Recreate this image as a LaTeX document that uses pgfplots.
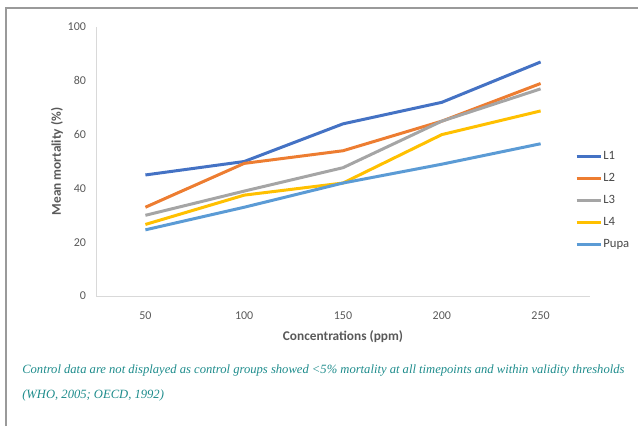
\documentclass[border=0pt]{standalone}
\usepackage{fontspec}
\setmainfont{Carlito}
\newfontfamily\capfont{Liberation Serif}
\usepackage{pgfplots}
\pgfplotsset{compat=1.18}
\definecolor{cLone}{HTML}{4472C4}
\definecolor{cLtwo}{HTML}{ED7D31}
\definecolor{cLthree}{HTML}{A5A5A5}
\definecolor{cLfour}{HTML}{FFC000}
\definecolor{cPupa}{HTML}{5B9BD5}
\definecolor{axgray}{HTML}{D9D9D9}
\definecolor{txtgray}{HTML}{595959}
\definecolor{framegray}{HTML}{9A9A9A}
\definecolor{capcol}{HTML}{1E8C8C}
\begin{document}
\begin{tikzpicture}
\useasboundingbox (0pt,0pt) rectangle (478.5pt,-319.5pt);
\draw[line width=1.5pt, color=framegray] (4.5pt,-319.5pt) -- (4.5pt,-6pt) -- (478.5pt,-6pt);
\begin{axis}[
  at={(72pt,-222pt)}, anchor=south west,
  scale only axis, width=370.5pt, height=201.75pt,
  xmin=0.5, xmax=5.5, ymin=0, ymax=100,
  xtick={1,2,3,4,5}, xticklabels={50,100,150,200,250},
  ytick={0,20,40,60,80,100},
  axis x line*=bottom, axis y line*=left,
  axis line style={draw=axgray, line width=0.75pt, -},
  major tick length=0pt,
  tick label style={font=\fontsize{9}{10}\selectfont, text=txtgray},
  /pgf/number format/assume math mode=true,
  xticklabel style={yshift=-8.5pt},
  yticklabel style={xshift=-4pt},
  xlabel={Concentrations (ppm)},
  ylabel={Mean mortality (\%)},
  label style={font=\fontsize{10}{12}\selectfont\bfseries, text=txtgray},
  xlabel style={at={(rel axis cs:0.5,0)}, anchor=center, yshift=-30.75pt},
  ylabel style={at={(rel axis cs:0,0.5)}, anchor=center, yshift=29.25pt},
  legend style={at={(rel axis cs:0.961,0.572)}, anchor=north west, draw=none, fill=none,
    font=\fontsize{9.5}{10}\selectfont, text=txtgray!80!black,
    nodes={minimum height=16.5pt, inner sep=1pt}, cells={anchor=west}},
  legend image code/.code={\draw[#1] (0pt,0pt) -- (18pt,0pt);},
  every axis plot/.append style={line width=2.25pt, mark=none},
]
\addplot[cLone] coordinates {(1,45) (2,50) (3,64) (4,72) (5,87)};
\addlegendentry{L1}
\addplot[cLtwo] coordinates {(1,33) (2,49.3) (3,54) (4,65) (5,79)};
\addlegendentry{L2}
\addplot[cLthree] coordinates {(1,30) (2,39) (3,47.7) (4,65) (5,77)};
\addlegendentry{L3}
\addplot[cLfour] coordinates {(1,26.6) (2,37.5) (3,42) (4,60) (5,68.8)};
\addlegendentry{L4}
\addplot[cPupa] coordinates {(1,24.6) (2,33) (3,42) (4,49) (5,56.6)};
\addlegendentry{Pupa}
\end{axis}
\node[anchor=base west, inner sep=0pt, text=capcol, font=\capfont\itshape\fontsize{9.45}{10}\selectfont] at (16.5pt,-279.75pt) {Control data are not displayed as control groups showed <5\% mortality at all timepoints and within validity thresholds};
\node[anchor=base west, inner sep=0pt, text=capcol, font=\capfont\itshape\fontsize{9.45}{10}\selectfont] at (16.5pt,-298.5pt) {(WHO, 2005; OECD, 1992)};
\end{tikzpicture}
\end{document}
